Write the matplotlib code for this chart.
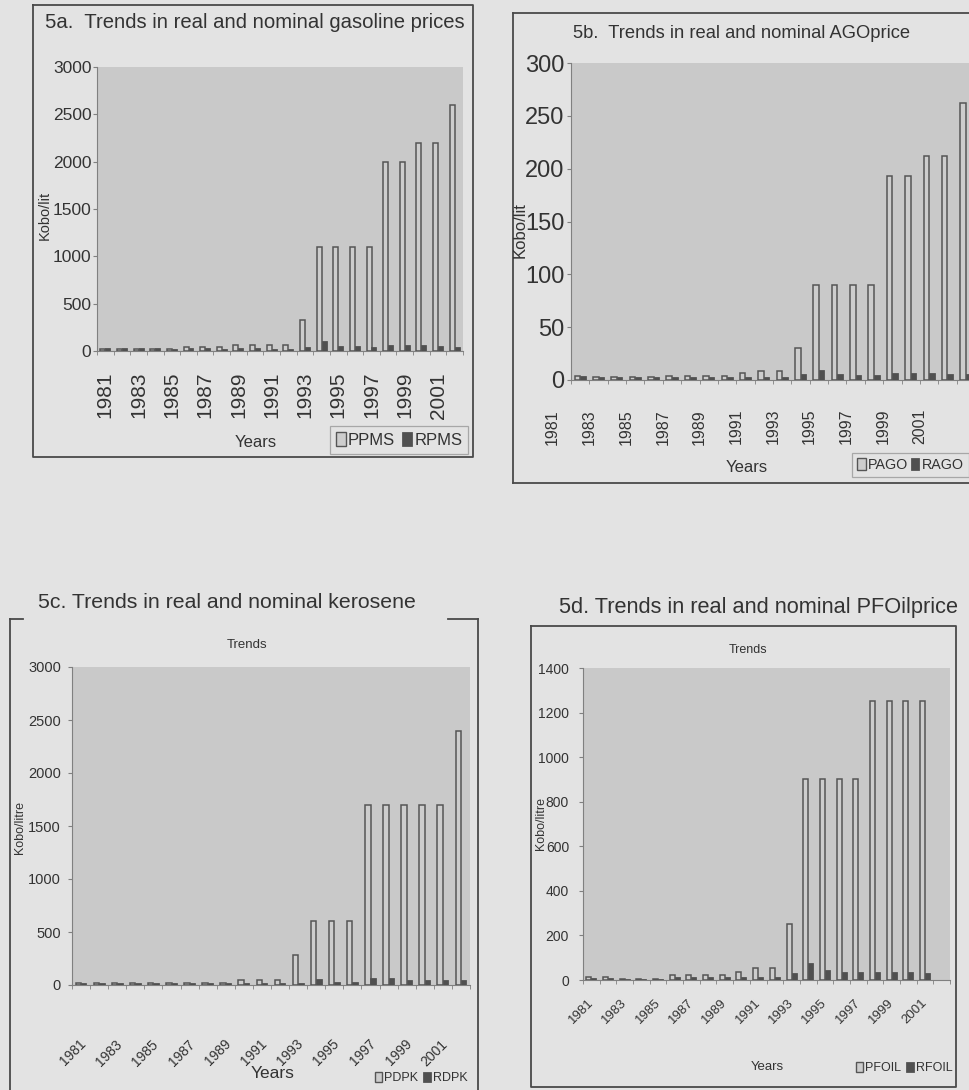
import matplotlib
matplotlib.use('Agg')
import matplotlib.pyplot as plt
import numpy as np
from matplotlib.lines import Line2D
from matplotlib.patches import Patch
import matplotlib.transforms as mtransforms

# ---------------- data ----------------
years = list(range(1981, 2003))
label_years = list(range(1981, 2002, 2))

ppms = [22, 22, 22, 22, 18, 40, 40, 40, 65, 65, 65, 65, 330, 1100, 1100, 1100, 1100, 2000, 2000, 2200, 2200, 2600]
rpms = [30, 30, 30, 30, 18, 30, 30, 25, 30, 28, 25, 25, 45, 105, 55, 50, 45, 65, 60, 60, 55, 45]

pago = [3.5, 2.5, 2.5, 2.5, 2.5, 3.5, 3.5, 3.5, 3.5, 6.5, 8.5, 8.5, 30, 90, 90, 90, 90, 193, 193, 212, 212, 262]
rago = [3.5, 2.5, 2.5, 2.5, 2.5, 3, 3, 3, 3, 3, 3, 3, 6, 9, 6, 5, 5, 7, 7, 7, 6, 6]

pdpk = [15, 15, 15, 15, 15, 15, 15, 15, 15, 45, 45, 45, 280, 600, 600, 600, 1700, 1700, 1700, 1700, 1700, 2400]
rdpk = [18, 15, 15, 15, 15, 15, 15, 15, 15, 15, 15, 15, 20, 55, 33, 33, 65, 65, 45, 45, 45, 45]

pfoil = [12, 12, 5, 5, 5, 23, 23, 23, 23, 35, 52, 52, 252, 900, 900, 900, 900, 1250, 1250, 1250, 1250, np.nan]
rfoil = [10, 10, 5, 5, 5, 15, 14, 14, 14, 14, 15, 15, 30, 78, 45, 35, 35, 37, 37, 35, 30, np.nan]

# ---------------- style ----------------
W, H = 969, 1090
PAGE = '#e3e3e3'
PLOT_BG = '#c9c9c9'
EDGE = '#555555'
NOM_FILL = '#cdcdcd'
REAL_FILL = '#505050'
TXT = '#333333'
REG = ['Liberation Sans', 'DejaVu Sans']

plt.rcParams['font.family'] = REG
plt.rcParams['text.color'] = TXT

fig = plt.figure(figsize=(W / 100, H / 100), dpi=100, facecolor=PAGE)


def fx(px):
    return px / W


def fy(py):
    return 1 - py / H


def add_ax(l, t, r, b):
    ax = fig.add_axes([fx(l), fy(b), (r - l) / W, (b - t) / H])
    ax.set_facecolor(PLOT_BG)
    for s in ('top', 'right'):
        ax.spines[s].set_visible(False)
    for s in ('left', 'bottom'):
        ax.spines[s].set_color('#808080')
        ax.spines[s].set_linewidth(0.8)
    return ax


def fline(xs, ys, lw=1.3, color='#4a4a4a'):
    fig.add_artist(Line2D([fx(x) for x in xs], [fy(y) for y in ys], lw=lw, color=color,
                          transform=fig.transFigure, clip_on=False))


def draw_bars(ax, nom, real, ymax, yticks, ysize, ypad):
    x = np.arange(len(years))
    w = 0.3
    ax.bar(x - w / 2, nom, width=w, color=NOM_FILL, edgecolor=EDGE, linewidth=1.1, zorder=3)
    ax.bar(x + w / 2, real, width=w, color=REAL_FILL, edgecolor=EDGE, linewidth=0.6, zorder=3)
    ax.set_xlim(-0.5, len(years) - 0.5)
    ax.set_ylim(0, ymax)
    ax.set_yticks(yticks)
    ax.set_yticklabels([str(v) for v in yticks], fontsize=ysize)
    ax.set_xticks([])
    ax.set_xticks(np.arange(len(years) + 1) - 0.5, minor=True)
    ax.tick_params(axis='x', which='minor', length=3, color='#808080', direction='out')
    ax.tick_params(axis='y', length=3, color='#808080', labelcolor=TXT, pad=ypad)


def xlabels(ax, ypx, rot, ha, va, size, shift=0.0, rmode='default', dx=0):
    tr = mtransforms.blended_transform_factory(ax.transData, fig.transFigure)
    if dx:
        tr = tr + mtransforms.ScaledTranslation(dx / 100, 0, fig.dpi_scale_trans)
    for yr in label_years:
        i = years.index(yr)
        ax.text(i + shift, fy(ypx), str(yr), rotation=rot, ha=ha, va=va, fontsize=size,
                transform=tr, rotation_mode=rmode, clip_on=False, color=TXT)


def legend(labels, xc, yc, size, frame, loc='center', colsp=0.4):
    handles = [Patch(facecolor=NOM_FILL, edgecolor=EDGE, linewidth=1.0, label=labels[0]),
               Patch(facecolor=REAL_FILL, edgecolor=EDGE, linewidth=0.6, label=labels[1])]
    lg = fig.legend(handles=handles, loc=loc, bbox_to_anchor=(fx(xc), fy(yc)), ncol=2,
                    frameon=frame, fancybox=False, handlelength=0.6, handleheight=0.9,
                    handletextpad=0.15, columnspacing=colsp, borderpad=0.35, borderaxespad=0,
                    prop={'size': size})
    if frame:
        lg.get_frame().set_edgecolor('#999999')
        lg.get_frame().set_facecolor(PAGE)
        lg.get_frame().set_linewidth(0.9)
    for t in lg.get_texts():
        t.set_color(TXT)
    return lg


# ================= 5a =================
fline([33, 473, 473, 33, 33], [5, 5, 457, 457, 5])
fig.text(fx(45), fy(22), '5a.  Trends in real and nominal gasoline prices', fontsize=14.6,
         va='center', ha='left')
ax = add_ax(97, 67, 463, 351)
draw_bars(ax, ppms, rpms, 3000, [0, 500, 1000, 1500, 2000, 2500, 3000], 12.5, 1)
xlabels(ax, 372, 90, 'center', 'top', 15)
fig.text(fx(45), fy(215), 'Kobo/lit', rotation=90, fontsize=10.5, ha='center', va='center')
fig.text(fx(256), fy(443), 'Years', fontsize=12, ha='center', va='center')
legend(['PPMS', 'RPMS'], 399, 440, 12, True)

# ================= 5b =================
fline([513, 513], [13, 483])
fline([513, 975], [13, 13])
fline([513, 975], [483, 483])
fig.text(fx(573), fy(33), '5b.  Trends in real and nominal AGOprice', fontsize=13.2,
         va='center', ha='left')
ax = add_ax(571, 63, 975, 380)
draw_bars(ax, pago, rago, 300, [0, 50, 100, 150, 200, 250, 300], 17, 1.5)
xlabels(ax, 409, 90, 'center', 'top', 11.5, shift=-1.5)
fig.text(fx(520), fy(230), 'Kobo/lit', rotation=90, fontsize=12, ha='center', va='center')
fig.text(fx(747), fy(468), 'Years', fontsize=12, ha='center', va='center')
legend(['PAGO', 'RAGO'], 852, 453, 10.3, True, loc='upper left', colsp=0.2)

# ================= 5c =================
fline([10, 23], [619, 619])
fline([448, 478], [619, 619])
fline([10, 10], [619, 1092])
fline([478, 478], [619, 1092])
fig.text(fx(38), fy(603), '5c. Trends in real and nominal kerosene', fontsize=15.3,
         va='center', ha='left')
fig.text(fx(247), fy(645), 'Trends', fontsize=9.5, ha='center', va='center')
ax = add_ax(72, 667, 470, 985)
draw_bars(ax, pdpk, rdpk, 3000, [0, 500, 1000, 1500, 2000, 2500, 3000], 10.5, 5)
xlabels(ax, 1037, 45, 'right', 'top', 10, rmode='anchor', dx=-2)
fig.text(fx(20), fy(828), 'Kobo/litre', rotation=90, fontsize=9, ha='center', va='center')
fig.text(fx(273), fy(1074), 'Years', fontsize=12.5, ha='center', va='center')
legend(['PDPK', 'RDPK'], 421, 1078, 9, False)

# ================= 5d =================
fline([531, 956, 956, 531, 531], [626, 626, 1087, 1087, 626])
fig.text(fx(559), fy(607), '5d. Trends in real and nominal PFOilprice', fontsize=15.7,
         va='center', ha='left')
fig.text(fx(748), fy(650), 'Trends', fontsize=9, ha='center', va='center')
ax = add_ax(583, 668, 950, 980)
draw_bars(ax, pfoil, rfoil, 1400, [0, 200, 400, 600, 800, 1000, 1200, 1400], 10, 7)
xlabels(ax, 997, 45, 'right', 'top', 9.5, rmode='anchor', dx=-4)
fig.text(fx(541), fy(823), 'Kobo/litre', rotation=90, fontsize=9, ha='center', va='center')
fig.text(fx(767), fy(1067), 'Years', fontsize=9.5, ha='center', va='center')
legend(['PFOIL', 'RFOIL'], 904, 1068, 9, False)

fig.savefig('out.png', dpi=100, facecolor=PAGE)
